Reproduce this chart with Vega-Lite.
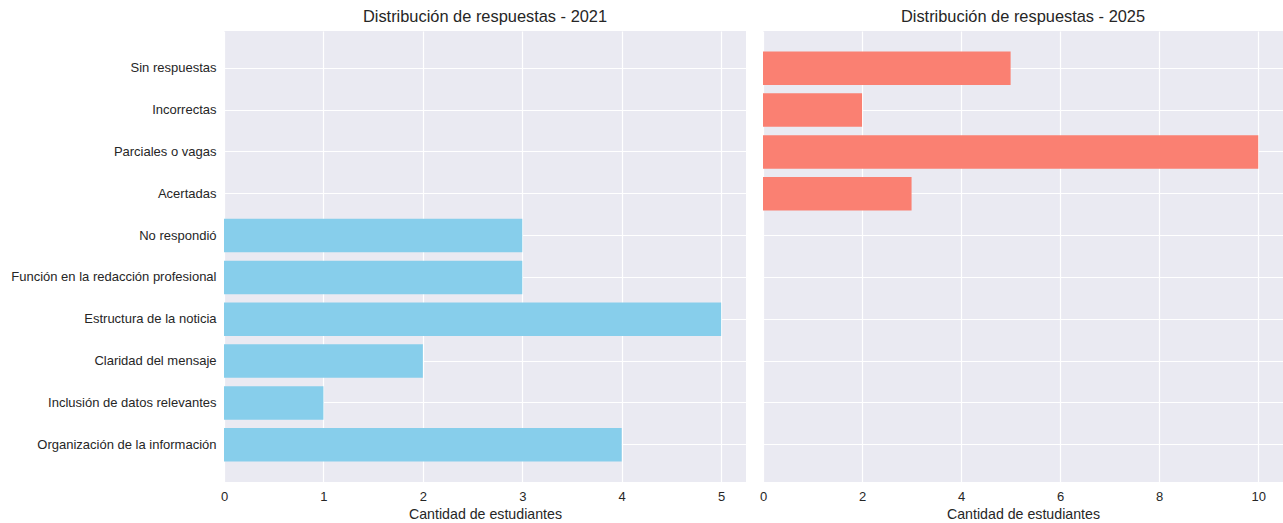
{
  "$schema": "https://vega.github.io/schema/vega-lite/v6.json",
  "background": "white",
  "padding": {"left": 10, "top": 8, "right": 0, "bottom": 3},
  "config": {
    "font": "Liberation Sans",
    "view": {"fill": "#EAEAF2", "stroke": null},
    "axis": {
      "domain": false, "ticks": false, "grid": true, "gridColor": "white", "gridWidth": 1.2,
      "labelFont": "Liberation Sans", "labelFontSize": 13, "labelColor": "#262626",
      "titleFont": "Liberation Sans", "titleFontSize": 14.2, "titleColor": "#262626", "titleFontWeight": "normal",
      "labelPadding": 8, "labelFlush": false
    },
    "title": {"font": "Liberation Sans", "fontSize": 16.4, "fontWeight": "normal", "color": "#262626", "offset": 6},
    "concat": {"spacing": 13}
  },
  "datasets": {
    "respuestas": [
      {"anio": "2021", "categoria": "No respondió", "cantidad": 3},
      {"anio": "2021", "categoria": "Función en la redacción profesional", "cantidad": 3},
      {"anio": "2021", "categoria": "Estructura de la noticia", "cantidad": 5},
      {"anio": "2021", "categoria": "Claridad del mensaje", "cantidad": 2},
      {"anio": "2021", "categoria": "Inclusión de datos relevantes", "cantidad": 1},
      {"anio": "2021", "categoria": "Organización de la información", "cantidad": 4},
      {"anio": "2025", "categoria": "Sin respuestas", "cantidad": 5},
      {"anio": "2025", "categoria": "Incorrectas", "cantidad": 2},
      {"anio": "2025", "categoria": "Parciales o vagas", "cantidad": 10},
      {"anio": "2025", "categoria": "Acertadas", "cantidad": 3}
    ]
  },
  "hconcat": [
    {
      "title": "Distribución de respuestas - 2021",
      "width": 522,
      "height": 451,
      "data": {"name": "respuestas"},
      "transform": [{"filter": "datum.anio == '2021'"}],
      "mark": {"type": "bar", "color": "#87CEEB"},
      "encoding": {
        "y": {
          "field": "categoria", "type": "nominal", "title": null,
          "scale": {
            "domain": ["Sin respuestas", "Incorrectas", "Parciales o vagas", "Acertadas", "No respondió", "Función en la redacción profesional", "Estructura de la noticia", "Claridad del mensaje", "Inclusión de datos relevantes", "Organización de la información"],
            "paddingInner": 0.2, "paddingOuter": 0.49
          },
          "axis": {"bandPosition": 0.5, "labelLimit": 400}
        },
        "x": {
          "field": "cantidad", "type": "quantitative", "title": "Cantidad de estudiantes",
          "scale": {"domain": [0, 5.25], "nice": false},
          "axis": {"values": [0, 1, 2, 3, 4, 5], "titlePadding": 4}
        }
      }
    },
    {
      "title": "Distribución de respuestas - 2025",
      "width": 520,
      "height": 451,
      "data": {"name": "respuestas"},
      "transform": [{"filter": "datum.anio == '2025'"}],
      "mark": {"type": "bar", "color": "#FA8072"},
      "encoding": {
        "y": {
          "field": "categoria", "type": "nominal", "title": null,
          "scale": {
            "domain": ["Sin respuestas", "Incorrectas", "Parciales o vagas", "Acertadas", "No respondió", "Función en la redacción profesional", "Estructura de la noticia", "Claridad del mensaje", "Inclusión de datos relevantes", "Organización de la información"],
            "paddingInner": 0.2, "paddingOuter": 0.49
          },
          "axis": {"bandPosition": 0.5, "labels": false}
        },
        "x": {
          "field": "cantidad", "type": "quantitative", "title": "Cantidad de estudiantes",
          "scale": {"domain": [0, 10.5], "nice": false},
          "axis": {"values": [0, 2, 4, 6, 8, 10], "titlePadding": 4}
        }
      }
    }
  ]
}
